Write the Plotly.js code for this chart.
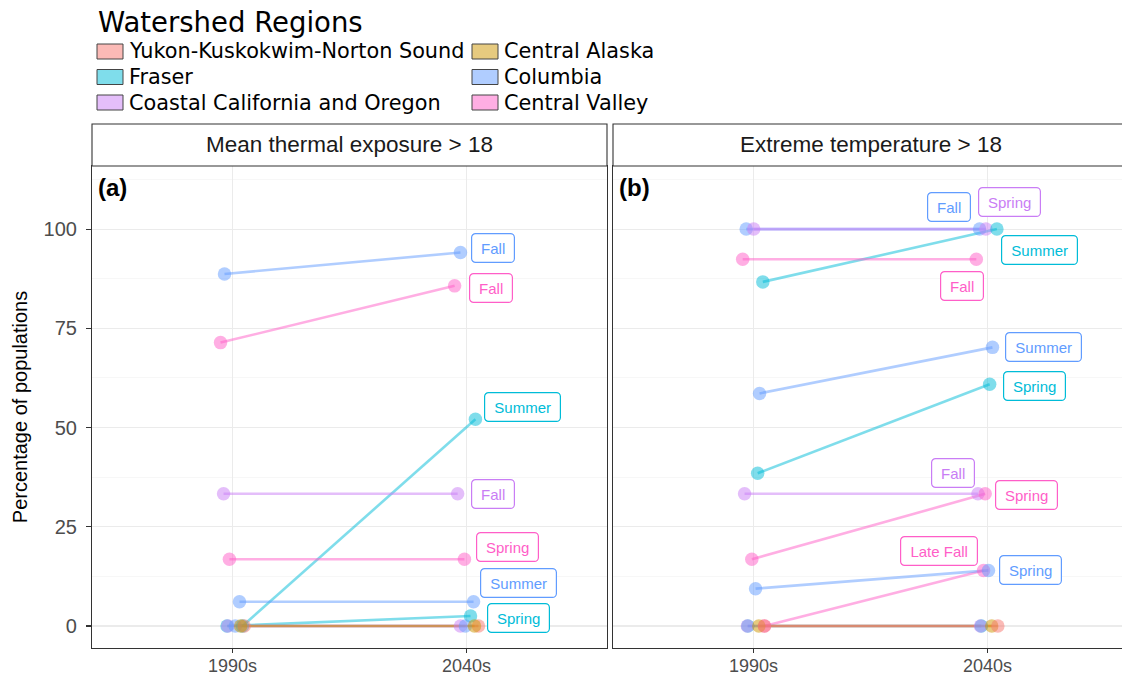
<!DOCTYPE html>
<html>
<head>
<meta charset="utf-8">
<script src="https://cdn.plot.ly/plotly-3.0.1.min.js"></script>
<style>html,body{margin:0;padding:0;background:#fff;overflow:hidden}</style>
</head>
<body>
<div id="chart" style="width:1122px;height:679px"></div>
<script>
// ---------------- DATA ----------------
const regions = ['Yukon-Kuskokwim-Norton Sound', 'Central Alaska', 'Fraser', 'Columbia',
                 'Coastal California and Oregon', 'Central Valley'];
const periods = ['1990s', '2040s'];
const facetTitles = ['Mean thermal exposure > 18', 'Extreme temperature > 18'];
const panelTags = ['(a)', '(b)'];
const legendTitle = 'Watershed Regions';
const yTitle = 'Percentage of populations';
const yTicks = [0, 25, 50, 75, 100];

// Panel (a): Mean thermal exposure > 18
const a_region = ['Columbia', 'Central Valley', 'Fraser', 'Coastal California and Oregon', 'Central Valley',
                  'Columbia', 'Fraser', 'Coastal California and Oregon', 'Columbia',
                  'Yukon-Kuskokwim-Norton Sound', 'Central Alaska'];
const a_season = ['Fall', 'Fall', 'Summer', 'Fall', 'Spring', 'Summer', 'Spring', '', '', '', ''];
const a_1990s = [88.7, 71.4, 0, 33.3, 16.8, 6.1, 0, 0, 0, 0, 0];
const a_2040s = [94.1, 85.7, 52.1, 33.3, 16.8, 6.1, 2.5, 0, 0, 0, 0];
const a_jitter1990s = [-0.034, -0.051, 0.043, -0.038, -0.013, 0.030, -0.023, -0.020, 0.012, 0.050, 0.035];
const a_jitter2040s = [-0.026, -0.051, 0.038, -0.038, -0.009, 0.030, 0.017, -0.026, -0.005, 0.051, 0.034];

// Panel (b): Extreme temperature > 18
const b_region = ['Columbia', 'Coastal California and Oregon', 'Fraser', 'Central Valley', 'Columbia',
                  'Fraser', 'Coastal California and Oregon', 'Central Valley', 'Central Valley', 'Columbia',
                  'Fraser', 'Coastal California and Oregon', 'Central Alaska', 'Yukon-Kuskokwim-Norton Sound'];
const b_season = ['Fall', 'Spring', 'Summer', 'Fall', 'Summer', 'Spring', 'Fall', 'Spring', 'Late Fall', 'Spring',
                  '', '', '', ''];
const b_1990s = [100, 100, 86.7, 92.4, 58.6, 38.5, 33.3, 16.8, 0, 9.4, 0, 0, 0, 0];
const b_2040s = [100, 100, 100, 92.4, 70.2, 60.9, 33.3, 33.3, 14.0, 14.0, 0, 0, 0, 0];
const b_jitter1990s = [-0.031, 0.001, 0.040, -0.046, 0.026, 0.018, -0.038, -0.007, 0.047, 0.009, -0.024, -0.026, 0.023, 0.047];
const b_jitter2040s = [-0.034, -0.007, 0.040, -0.048, 0.021, 0.009, -0.041, -0.010, -0.017, 0.004, -0.027, -0.030, 0.018, 0.044];

// ---------------- STYLE ----------------
const regionColors = ['#F8766D', '#CD9600', '#00BCD8', '#619CFF', '#C97DF5', '#FF5EC8'];
// label placement offsets (px, y up positive) for labelled series
const a_labelDx = [33, 36, 47, 35, 43, 45, 48];
const a_labelDy = [4.5, -2, 12, 0, 12, 19, -2];
const b_labelDx = [-31, 24, 43, -14.5, 51, 45, -25, 41, -45, 42];
const b_labelDy = [22, 27, -20.5, -26.5, 0, -2, 21, -1, 19.5, 0];

const W = 1122, H = 679, ML = 92, MR = 0, MT = 166, MB = 31;
const PW = W - ML - MR, PH = H - MT - MB;
const px2x = p => (p - ML) / PW;
const px2y = p => (MT + PH - p) / PH;
const FONT = '"Liberation Sans", Arial, sans-serif';
const LFONT = '"DejaVu Sans", sans-serif';

function rgba(hex, a) {
  const n = parseInt(hex.slice(1), 16);
  return `rgba(${(n >> 16) & 255},${(n >> 8) & 255},${n & 255},${a})`;
}
const colorOf = r => regionColors[regions.indexOf(r)];

const ctx = document.createElement('canvas').getContext('2d');
function textW(t, size) { ctx.font = `${size}px "Liberation Sans"`; return ctx.measureText(t).width; }

const traces = [];
const annotations = [];

function addPanel(reg, season, v1, v2, j1, j2, dx, dy, xa, ya) {
  for (let i = 0; i < reg.length; i++) {
    traces.push({
      type: 'scatter', mode: 'lines', xaxis: xa, yaxis: ya,
      x: [1 + j1[i], 2 + j2[i]], y: [v1[i], v2[i]],
      line: { color: rgba(colorOf(reg[i]), 0.5), width: 2.6 },
      showlegend: false, hoverinfo: 'skip'
    });
  }
  const px = [], py = [], pc = [];
  for (let i = 0; i < reg.length; i++) {
    px.push(1 + j1[i]); py.push(v1[i]); pc.push(rgba(colorOf(reg[i]), 0.5));
    px.push(2 + j2[i]); py.push(v2[i]); pc.push(rgba(colorOf(reg[i]), 0.5));
  }
  traces.push({
    type: 'scatter', mode: 'markers', xaxis: xa, yaxis: ya, x: px, y: py,
    marker: { size: 13.5, color: pc, line: { width: 0 } }, showlegend: false, hoverinfo: 'skip'
  });
  let k = 0;
  for (let i = 0; i < reg.length; i++) {
    if (!season[i]) continue;
    const c = colorOf(reg[i]);
    annotations.push({
      xref: xa, yref: ya, x: 2 + j2[i], y: v2[i], text: season[i], showarrow: false,
      xshift: dx[k], yshift: dy[k],
      font: { family: FONT, size: 15, color: c },
      bgcolor: 'white', bordercolor: c, borderwidth: 1.2, borderpad: 5,
      width: Math.round(textW(season[i], 15) + 8), height: 18
    });
    k++;
  }
}

addPanel(a_region, a_season, a_1990s, a_2040s, a_jitter1990s, a_jitter2040s, a_labelDx, a_labelDy, 'x', 'y');
addPanel(b_region, b_season, b_1990s, b_2040s, b_jitter1990s, b_jitter2040s, b_labelDx, b_labelDy, 'x2', 'y2');

const aLeft = 92, aRight = 607, bLeft = 613;
const unitPx = (aRight - aLeft) / 2.2;
const bRangeMax = 0.4 + (W - bLeft) / unitPx;

const shapes = [];
[[aLeft, aRight], [bLeft, bLeft + 2.2 * unitPx]].forEach((s, i) => {
  shapes.push({ type: 'rect', xref: 'paper', yref: 'paper', x0: px2x(s[0]), x1: px2x(s[1]),
    y0: px2y(166), y1: px2y(124), fillcolor: 'white', line: { color: '#333333', width: 1.1 }, layer: 'above' });
  annotations.push({ xref: 'paper', yref: 'paper', x: px2x((s[0] + s[1]) / 2), y: px2y(145),
    text: facetTitles[i], showarrow: false, xanchor: 'center', yanchor: 'middle',
    font: { family: FONT, size: 22.5, color: '#1A1A1A' } });
  annotations.push({ xref: 'paper', yref: 'paper', x: px2x(s[0] + 4), y: px2y(188),
    text: '<b>' + panelTags[i] + '</b>', showarrow: false, xanchor: 'left', yanchor: 'middle',
    font: { family: FONT, size: 24, color: '#000000' } });
});

annotations.push({ xref: 'paper', yref: 'paper', x: px2x(96), y: px2y(22), text: legendTitle,
  showarrow: false, xanchor: 'left', yanchor: 'middle', font: { family: LFONT, size: 27.5, color: '#000' } });
const legCols = [97, 472], legRows = [51.5, 77, 102.5];
regions.forEach((r, i) => {
  const cx = legCols[i % 2], cy = legRows[Math.floor(i / 2)];
  shapes.push({ type: 'rect', xref: 'paper', yref: 'paper', x0: px2x(cx), x1: px2x(cx + 26),
    y0: px2y(cy + 7.5), y1: px2y(cy - 7.5), fillcolor: rgba(regionColors[i], 0.5),
    line: { color: '#444444', width: 1 } });
  annotations.push({ xref: 'paper', yref: 'paper', x: px2x(cx + 30), y: px2y(cy), text: r,
    showarrow: false, xanchor: 'left', yanchor: 'middle', font: { family: LFONT, size: 20.8, color: '#000' } });
});

const gridMajor = '#EBEBEB', gridMinor = '#F4F4F4';
const xCommon = {
  tickvals: [1, 2], ticktext: periods, showgrid: true, gridcolor: gridMajor, gridwidth: 1.2,
  zeroline: false, showline: true, linecolor: '#333333', linewidth: 1.1, mirror: true,
  ticks: 'outside', ticklen: 4, tickcolor: '#333333', tickwidth: 1.1, ticklabelstandoff: -3,
  tickfont: { family: FONT, size: 18, color: '#4D4D4D' }, fixedrange: true
};
const yCommon = {
  range: [-5.55, 115.9], tickvals: yTicks, showgrid: true, gridcolor: gridMajor, gridwidth: 1.2,
  zeroline: false, showline: true, linecolor: '#333333', linewidth: 1.1,
  minor: { tickvals: [12.5, 37.5, 62.5, 87.5, 112.5], showgrid: true, gridcolor: gridMinor, gridwidth: 0.7, ticks: '' },
  fixedrange: true
};

const layout = {
  width: W, height: H, margin: { l: ML, r: MR, t: MT, b: MB, pad: 0 },
  paper_bgcolor: 'white', plot_bgcolor: 'white', showlegend: false,
  font: { family: FONT },
  xaxis: Object.assign({}, xCommon, { domain: [0, px2x(aRight)], range: [0.4, 2.6], anchor: 'y' }),
  xaxis2: Object.assign({}, xCommon, { domain: [px2x(bLeft), 1], range: [0.4, bRangeMax], anchor: 'y2' }),
  yaxis: Object.assign({}, yCommon, { anchor: 'x', mirror: true, ticks: 'outside', ticklen: 5,
    tickcolor: '#333333', tickwidth: 1.1, ticklabelstandoff: 5,
    tickfont: { family: FONT, size: 20, color: '#4D4D4D' },
    title: { text: yTitle, font: { family: FONT, size: 20, color: '#000' }, standoff: 10 } }),
  yaxis2: Object.assign({}, yCommon, { anchor: 'x2', matches: 'y', showticklabels: false, ticks: '', mirror: false }),
  shapes: shapes, annotations: annotations
};

Plotly.newPlot('chart', traces, layout, { displayModeBar: false, staticPlot: true }).then(() => {
  document.querySelectorAll('.annotation rect.bg').forEach(r => { r.setAttribute('rx', 4); r.setAttribute('ry', 4); });
});
</script>
</body>
</html>
